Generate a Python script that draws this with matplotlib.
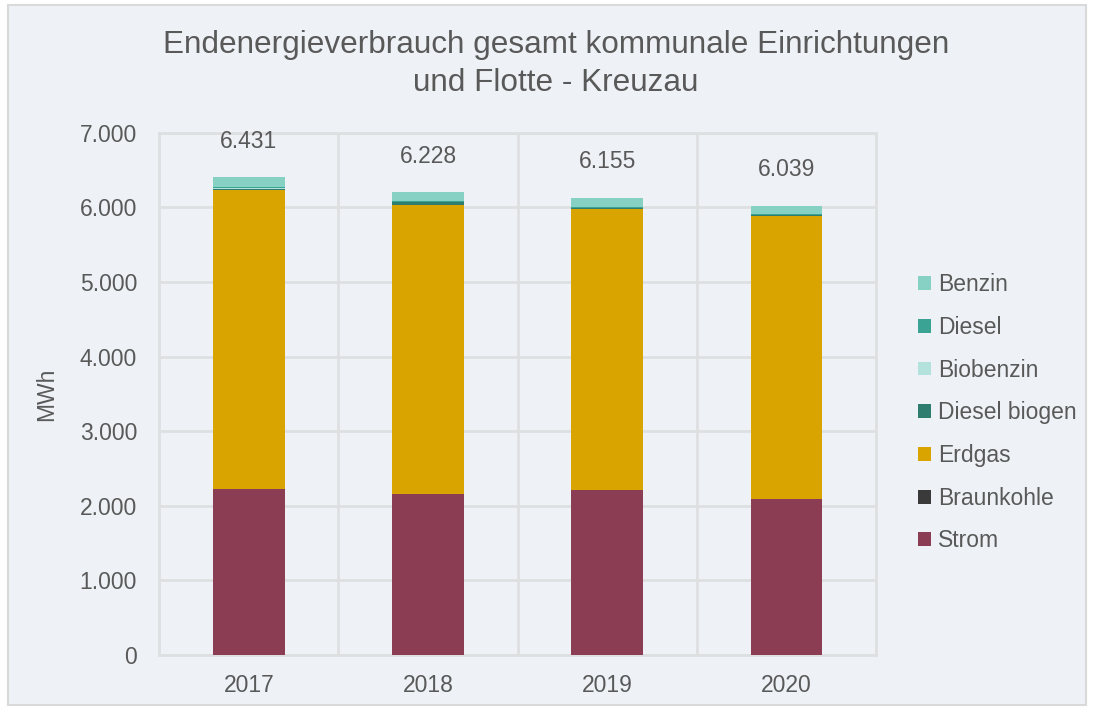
import matplotlib
matplotlib.use("Agg")
import matplotlib.pyplot as plt
from matplotlib.patches import Rectangle, Patch
import numpy as np

plt.rcParams['font.family'] = ['Liberation Sans', 'DejaVu Sans']

years = ["2017", "2018", "2019", "2020"]
totals_labels = ["6.431", "6.228", "6.155", "6.039"]
totals = [6431, 6228, 6155, 6039]

# stacked series, bottom -> top (MWh)
strom = [2225, 2160, 2210, 2090]
braunkohle = [3, 3, 3, 3]
erdgas = [4010, 3873, 3766, 3792]
diesel_biogen = [8, 36, 10, 10]
biobenzin = [8, 5, 6, 5]
diesel = [18, 10, 15, 15]
benzin = [130, 120, 120, 107]

series = [
    ("Strom", strom, "#8B3D54"),
    ("Braunkohle", braunkohle, "#3A3A3A"),
    ("Erdgas", erdgas, "#D9A300"),
    ("Diesel biogen", diesel_biogen, "#2F7D6F"),
    ("Biobenzin", biobenzin, "#B2E2DB"),
    ("Diesel", diesel, "#3BA393"),
    ("Benzin", benzin, "#86D0C4"),
]

bg = "#EEF2F6"
txt = "#595959"
gridc = "#DEDFE1"
fs = 16.5

fig = plt.figure(figsize=(10.94, 7.09), dpi=100)
fig.patch.set_facecolor("white")
fig.patches.append(Rectangle((8/1094, 4/709), (1086-8)/1094, (704-4)/709,
                             transform=fig.transFigure, facecolor=bg,
                             edgecolor="#D9D9D9", linewidth=1.5, zorder=-10))

ax = fig.add_axes([159.3/1094, 54/709, (876-159.3)/1094, (655-132.7)/709])
ax.set_facecolor(bg)

x = np.arange(len(years))
bottom = np.zeros(len(years))
for name, vals, col in series:
    ax.bar(x, vals, bottom=bottom, width=0.40, color=col, label=name, zorder=3)
    bottom += np.array(vals)

for xi, top, lab in zip(x, bottom, totals_labels):
    ax.text(xi, top + 480, lab, ha="center", va="center", fontsize=fs, color=txt)

ax.set_xlim(-0.5, 3.5)
ax.set_ylim(0, 7000)
ax.set_yticks(np.arange(0, 7001, 1000))
ax.set_yticklabels(["0" if v == 0 else f"{v//1000}.000" for v in range(0, 7001, 1000)])
ax.set_xticks(x)
ax.set_xticklabels(years)
ax.set_xticks([0.5, 1.5, 2.5], minor=True)
ax.tick_params(axis="both", which="both", length=0, labelsize=fs, labelcolor=txt)
ax.tick_params(axis="y", pad=16)
ax.tick_params(axis="x", pad=14)
ax.grid(axis="y", color=gridc, linewidth=2, zorder=0)
ax.grid(axis="x", which="minor", color=gridc, linewidth=2, zorder=0)
for s in ax.spines.values():
    s.set_color(gridc)
    s.set_linewidth(2)

ax.set_ylabel("MWh", fontsize=fs, color=txt)
ax.yaxis.set_label_coords((58 - 159.3) / (876 - 159.3), 0.5)

fig.text(556/1094, 1 - 45/709, "Endenergieverbrauch gesamt kommunale Einrichtungen",
         ha="center", va="center", fontsize=22.7, color=txt)
fig.text(556/1094, 1 - 83/709, "und Flotte - Kreuzau",
         ha="center", va="center", fontsize=22.7, color=txt)

handles = [Patch(facecolor=c, edgecolor="none") for _, _, c in series][::-1]
labels = [n for n, _, _ in series][::-1]
leg = fig.legend(handles, labels, loc="upper left",
                 bbox_to_anchor=(909/1094, 1 - 264/709),
                 frameon=False, fontsize=fs, labelcolor=txt,
                 handlelength=0.55, handleheight=0.55, handletextpad=0.3,
                 labelspacing=0.86, borderaxespad=0)

fig.savefig("out.png", dpi=100, facecolor=fig.get_facecolor())
